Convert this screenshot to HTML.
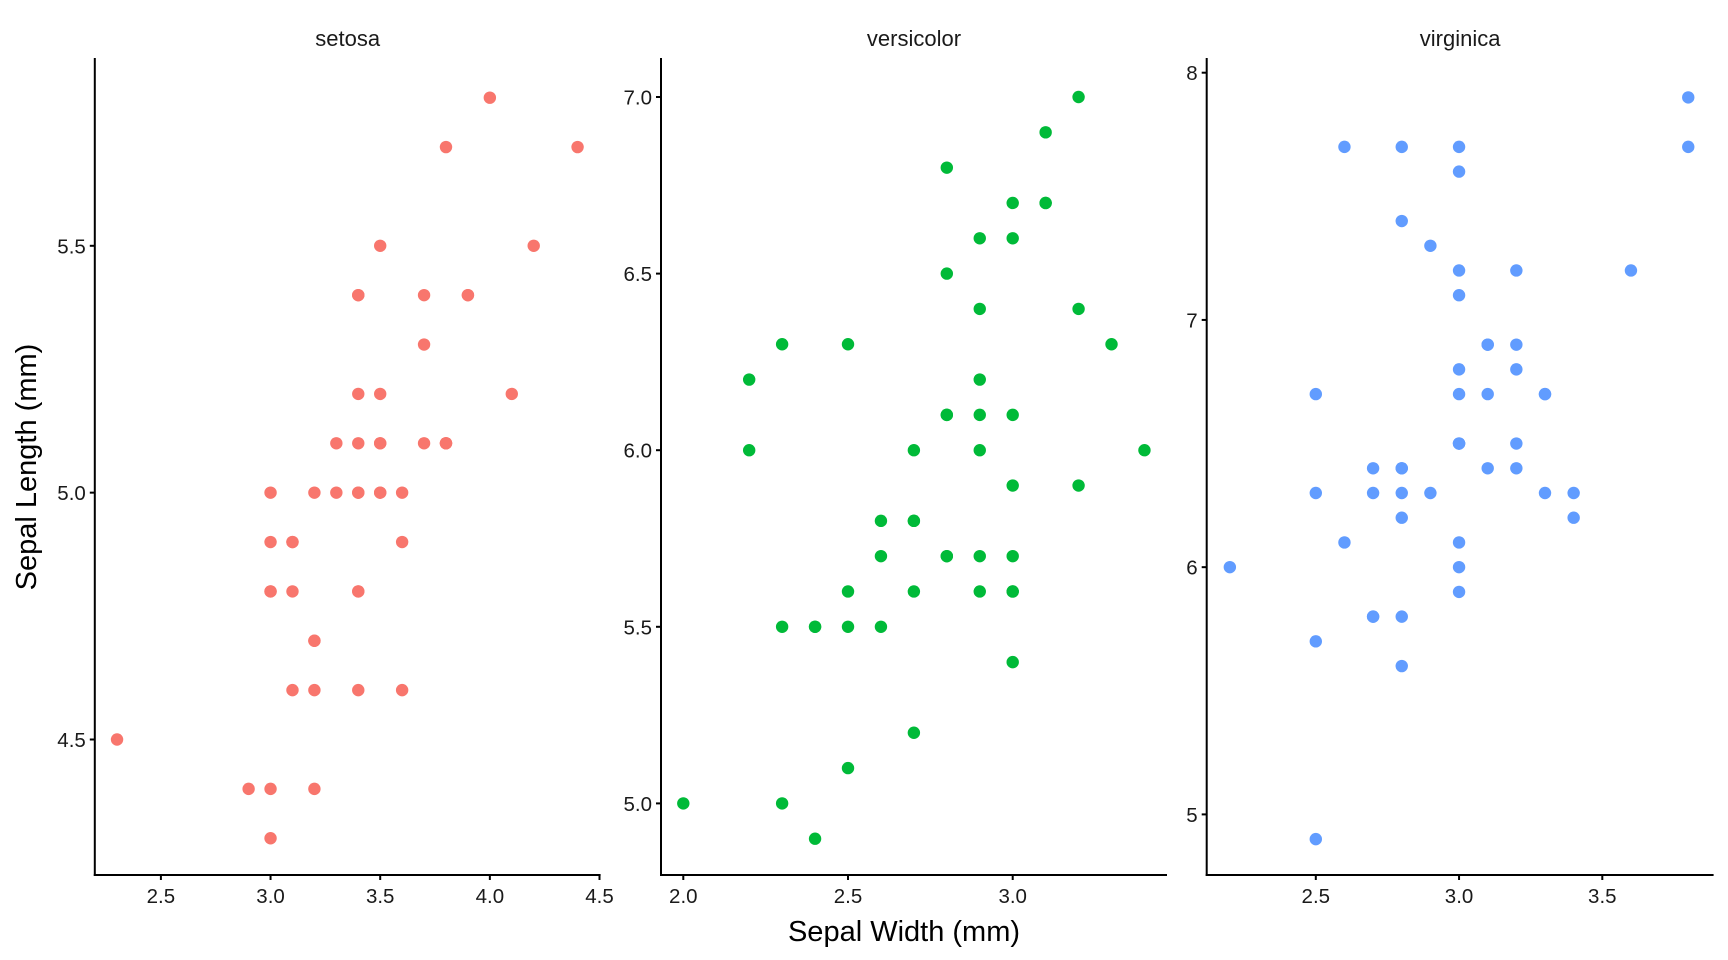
<!DOCTYPE html>
<html><head><meta charset="utf-8">
<style>
html,body{margin:0;padding:0;background:#fff;}
svg{display:block;font-family:"Liberation Sans",Arial,sans-serif;}
</style></head>
<body>
<svg id="chart" width="1728" height="960" viewBox="0 0 1728 960" xmlns="http://www.w3.org/2000/svg">
<text x="904" y="941" font-size="29" text-anchor="middle" fill="#000">Sepal Width (mm)</text>
<text x="0" y="0" font-size="29" text-anchor="middle" fill="#000" transform="translate(36,467) rotate(-90)">Sepal Length (mm)</text>
</svg>
<script>
const speciesNames = ["setosa","versicolor","virginica"];
const setosaWidth = [3.5,3.0,3.2,3.1,3.6,3.9,3.4,3.4,2.9,3.1,3.7,3.4,3.0,3.0,4.0,4.4,3.9,3.5,3.8,3.8,3.4,3.7,3.6,3.3,3.4,3.0,3.4,3.5,3.4,3.2,3.1,3.4,4.1,4.2,3.1,3.2,3.5,3.6,3.0,3.4,3.5,2.3,3.2,3.5,3.8,3.0,3.8,3.2,3.7,3.3];
const setosaLength = [5.1,4.9,4.7,4.6,5.0,5.4,4.6,5.0,4.4,4.9,5.4,4.8,4.8,4.3,5.8,5.7,5.4,5.1,5.7,5.1,5.4,5.1,4.6,5.1,4.8,5.0,5.0,5.2,5.2,4.7,4.8,5.4,5.2,5.5,4.9,5.0,5.5,4.9,4.4,5.1,5.0,4.5,4.4,5.0,5.1,4.8,5.1,4.6,5.3,5.0];
const versicolorWidth = [3.2,3.2,3.1,2.3,2.8,2.8,3.3,2.4,2.9,2.7,2.0,3.0,2.2,2.9,2.9,3.1,3.0,2.7,2.2,2.5,3.2,2.8,2.5,2.8,2.9,3.0,2.8,3.0,2.9,2.6,2.4,2.4,2.7,2.7,3.0,3.4,3.1,2.3,3.0,2.5,2.6,3.0,2.6,2.3,2.7,3.0,2.9,2.9,2.5,2.8];
const versicolorLength = [7.0,6.4,6.9,5.5,6.5,5.7,6.3,4.9,6.6,5.2,5.0,5.9,6.0,6.1,5.6,6.7,5.6,5.8,6.2,5.6,5.9,6.1,6.3,6.1,6.4,6.6,6.8,6.7,6.0,5.7,5.5,5.5,5.8,6.0,5.4,6.0,6.7,6.3,5.6,5.5,5.5,6.1,5.8,5.0,5.6,5.7,5.7,6.2,5.1,5.7];
const virginicaWidth = [3.3,2.7,3.0,2.9,3.0,3.0,2.5,2.9,2.5,3.6,3.2,2.7,3.0,2.5,2.8,3.2,3.0,3.8,2.6,2.2,3.2,2.8,2.8,2.7,3.3,3.2,2.8,3.0,2.8,3.0,2.8,3.8,2.8,2.8,2.6,3.0,3.4,3.1,3.0,3.1,3.1,3.1,2.7,3.2,3.3,3.0,2.5,3.0,3.4,3.0];
const virginicaLength = [6.3,5.8,7.1,6.3,6.5,7.6,4.9,7.3,6.7,7.2,6.5,6.4,6.8,5.7,5.8,6.4,6.5,7.7,7.7,6.0,6.9,5.6,7.7,6.3,6.7,7.2,6.2,6.1,6.4,7.2,7.4,7.9,6.4,6.3,6.1,7.7,6.3,6.4,6.0,6.9,6.7,6.9,5.8,6.8,6.7,6.7,6.3,6.5,6.2,5.9];
const setosaXTicks = [2.5,3.0,3.5,4.0,4.5];
const setosaYTicks = [4.5,5.0,5.5];
const versicolorXTicks = [2.0,2.5,3.0];
const versicolorYTicks = [5.0,5.5,6.0,6.5,7.0];
const virginicaXTicks = [2.5,3.0,3.5];
const virginicaYTicks = [5,6,7,8];

const NS = "http://www.w3.org/2000/svg";
const svg = document.getElementById("chart");
const plotTop = 58, plotBottom = 875;
const panels = [
  {name:"setosa", xs:setosaWidth, ys:setosaLength, xt:setosaXTicks, yt:setosaYTicks, dec:1, color:"#F8766D",
   left:94.8, right:600.6, xd:[2.5,4.5], xr:[160.9,599.5], yd:[4.5,5.5], yr:[739.5,245.8]},
  {name:"versicolor", xs:versicolorWidth, ys:versicolorLength, xt:versicolorXTicks, yt:versicolorYTicks, dec:1, color:"#00BA38",
   left:661, right:1167, xd:[2.0,3.0], xr:[683.3,1012.7], yd:[5.0,7.0], yr:[803.4,97]},
  {name:"virginica", xs:virginicaWidth, ys:virginicaLength, xt:virginicaXTicks, yt:virginicaYTicks, dec:0, color:"#619CFF",
   left:1206.7, right:1713.6, xd:[2.5,3.5], xr:[1315.8,1602.3], yd:[5,8], yr:[814.4,72.7]}
];
function mk(tag, attrs){const e=document.createElementNS(NS,tag);for(const k in attrs)e.setAttribute(k,attrs[k]);svg.appendChild(e);return e;}
function lin(d,r){return v=>r[0]+(v-d[0])*(r[1]-r[0])/(d[1]-d[0]);}
panels.forEach(p=>{
  const sx=lin(p.xd,p.xr), sy=lin(p.yd,p.yr);
  const strip=mk("text",{x:(p.left+p.right)/2,y:46,"font-size":22,"text-anchor":"middle",fill:"#1a1a1a"});
  strip.textContent=p.name;
  
  
  const ya=mk("line",{x1:p.left,y1:plotTop,x2:p.left,y2:plotBottom+1,stroke:"#000","stroke-width":2});
  
  
  const xa=mk("line",{x1:p.left-1,y1:plotBottom,x2:p.right,y2:plotBottom,stroke:"#000","stroke-width":2});
  
  
  p.xt.forEach(t=>{
    const x=sx(t);
    const tk=mk("line",{x1:x,y1:plotBottom,x2:x,y2:plotBottom+5,stroke:"#000","stroke-width":2});
    
    
    const lb=mk("text",{x:x,y:plotBottom+28,"font-size":20.5,"text-anchor":"middle",fill:"#1a1a1a"});
    lb.textContent=t.toFixed(1);
    
    
  });
  p.yt.forEach(t=>{
    const y=sy(t);
    const tk=mk("line",{x1:p.left-5,y1:y,x2:p.left,y2:y,stroke:"#000","stroke-width":2});
    
    
    const lb=mk("text",{x:p.left-9,y:y+7.5,"font-size":20.5,"text-anchor":"end",fill:"#1a1a1a"});
    lb.textContent=t.toFixed(p.dec);
    
    
  });
  p.xs.forEach((w,i)=>{
    const c=mk("circle",{cx:sx(w),cy:sy(p.ys[i]),r:6.2,fill:p.color});
    
    
  });
});
</script>
</body></html>
